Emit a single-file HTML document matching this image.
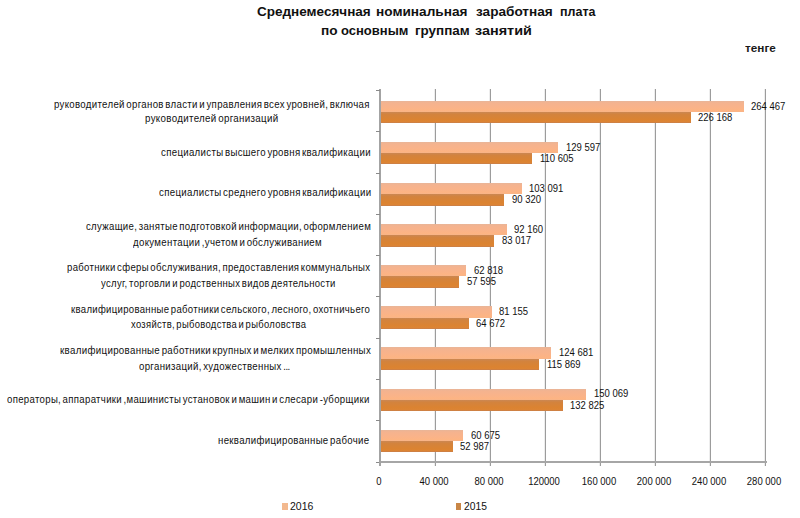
<!DOCTYPE html>
<html><head><meta charset="utf-8"><style>
html,body{margin:0;padding:0;background:#fff;}
body{width:800px;height:518px;position:relative;overflow:hidden;font-family:"Liberation Sans",sans-serif;}
.t{position:absolute;white-space:nowrap;line-height:20px;height:20px;transform-origin:0 0;}
.cl{letter-spacing:0.35px;word-spacing:-1.6px;}
.g{position:absolute;background:#9c9c9c;width:1px;}
.gl{box-shadow:-1px 0 0 #ededed;}
.b1{position:absolute;background:linear-gradient(to bottom,#e8b598 0%,#f4b38f 18%,#f9b38a 55%,#fdb482 92%,#f3b48c 100%);}
.b2{position:absolute;background:linear-gradient(to bottom,#cb8753 0%,#d3833d 22%,#db8331 70%,#dc8434 88%,#c67e4c 100%);}
</style></head><body>

<div class="g gl" style="left:435px;top:89px;height:377px"></div>
<div class="g gl" style="left:490px;top:89px;height:377px"></div>
<div class="g gl" style="left:545px;top:89px;height:377px"></div>
<div class="g gl" style="left:600px;top:89px;height:377px"></div>
<div class="g gl" style="left:655px;top:89px;height:377px"></div>
<div class="g gl" style="left:710px;top:89px;height:377px"></div>
<div class="g gl" style="left:765px;top:89px;height:377px"></div>
<div class="g" style="left:379px;top:89px;height:374px;width:2px;background:#a3a3a3"></div>
<div class="g" style="left:379px;top:461px;width:388px;height:2px;background:#a6a6a6"></div>
<div class="g" style="left:376px;top:90px;width:4px;height:1px;background:#8a8a8a"></div>
<div class="g" style="left:376px;top:131px;width:4px;height:1px;background:#8a8a8a"></div>
<div class="g" style="left:376px;top:173px;width:4px;height:1px;background:#8a8a8a"></div>
<div class="g" style="left:376px;top:214px;width:4px;height:1px;background:#8a8a8a"></div>
<div class="g" style="left:376px;top:255px;width:4px;height:1px;background:#8a8a8a"></div>
<div class="g" style="left:376px;top:296px;width:4px;height:1px;background:#8a8a8a"></div>
<div class="g" style="left:376px;top:338px;width:4px;height:1px;background:#8a8a8a"></div>
<div class="g" style="left:376px;top:379px;width:4px;height:1px;background:#8a8a8a"></div>
<div class="g" style="left:376px;top:420px;width:4px;height:1px;background:#8a8a8a"></div>
<div class="g" style="left:376px;top:462px;width:4px;height:1px;background:#8a8a8a"></div>
<div class="g" style="left:379px;top:461px;height:5px;width:2px;background:#a3a3a3"></div>
<div class="b1" style="left:381.00px;top:100.60px;width:362.64px;height:11.35px"></div>
<div class="b2" style="left:381.00px;top:111.95px;width:309.98px;height:11.35px"></div>
<div class="b1" style="left:381.00px;top:141.73px;width:177.20px;height:11.35px"></div>
<div class="b2" style="left:381.00px;top:153.08px;width:151.08px;height:11.35px"></div>
<div class="b1" style="left:381.00px;top:182.86px;width:140.75px;height:11.35px"></div>
<div class="b2" style="left:381.00px;top:194.21px;width:123.19px;height:11.35px"></div>
<div class="b1" style="left:381.00px;top:223.99px;width:125.72px;height:11.35px"></div>
<div class="b2" style="left:381.00px;top:235.34px;width:113.15px;height:11.35px"></div>
<div class="b1" style="left:381.00px;top:265.12px;width:85.37px;height:11.35px"></div>
<div class="b2" style="left:381.00px;top:276.47px;width:78.19px;height:11.35px"></div>
<div class="b1" style="left:381.00px;top:306.25px;width:110.59px;height:11.35px"></div>
<div class="b2" style="left:381.00px;top:317.60px;width:87.92px;height:11.35px"></div>
<div class="b1" style="left:381.00px;top:347.38px;width:170.44px;height:11.35px"></div>
<div class="b2" style="left:381.00px;top:358.73px;width:158.32px;height:11.35px"></div>
<div class="b1" style="left:381.00px;top:388.51px;width:205.34px;height:11.35px"></div>
<div class="b2" style="left:381.00px;top:399.86px;width:181.63px;height:11.35px"></div>
<div class="b1" style="left:381.00px;top:429.64px;width:82.43px;height:11.35px"></div>
<div class="b2" style="left:381.00px;top:440.99px;width:71.86px;height:11.35px"></div>
<div style="position:absolute;left:282.4px;top:502.8px;width:6px;height:7px;background:#f3b98f"></div>
<div style="position:absolute;left:456px;top:503.1px;width:5px;height:7px;background:#c98646"></div>
<div class="t" id="t1_0" style="left:256.79px;top:1.63px;font-size:13.2px;font-weight:700;color:#111;transform:scaleX(1.0247);">Среднемесячная</div>
<div class="t" id="t1_1" style="left:376.39px;top:1.63px;font-size:13.2px;font-weight:700;color:#111;transform:scaleX(1.0336);">номинальная</div>
<div class="t" id="t1_2" style="left:476.39px;top:1.63px;font-size:13.2px;font-weight:700;color:#111;transform:scaleX(1.0308);">заработная</div>
<div class="t" id="t1_3" style="left:560.31px;top:1.63px;font-size:13.2px;font-weight:700;color:#111;transform:scaleX(0.9467);">плата</div>
<div class="t" id="t2_0" style="left:320.83px;top:20.63px;font-size:13.2px;font-weight:700;color:#111;transform:scaleX(1.0328);">по</div>
<div class="t" id="t2_1" style="left:341.49px;top:20.63px;font-size:13.2px;font-weight:700;color:#111;transform:scaleX(0.9856);">основным</div>
<div class="t" id="t2_2" style="left:415.20px;top:20.63px;font-size:13.2px;font-weight:700;color:#111;transform:scaleX(1.0168);">группам</div>
<div class="t" id="t2_3" style="left:474.88px;top:20.63px;font-size:13.2px;font-weight:700;color:#111;transform:scaleX(1.0928);">занятий</div>
<div class="t" id="unit" style="left:745.00px;top:37.88px;font-size:11.3px;font-weight:700;color:#1a1a1a;transform:scaleX(1.0402);">тенге</div>
<div class="t cl" id="c0_0" style="left:54.28px;top:93.76px;font-size:10.5px;font-weight:400;color:#111;transform:scaleX(0.9177);">руководителей органов власти и управления всех уровней, включая</div>
<div class="t cl" id="c0_1" style="left:144.80px;top:107.96px;font-size:10.5px;font-weight:400;color:#111;transform:scaleX(0.9283);">руководителей организаций</div>
<div class="t cl" id="c1_0" style="left:160.98px;top:142.36px;font-size:10.5px;font-weight:400;color:#111;transform:scaleX(0.9187);">специалисты высшего уровня квалификации</div>
<div class="t cl" id="c2_0" style="left:158.98px;top:181.86px;font-size:10.5px;font-weight:400;color:#111;transform:scaleX(0.9209);">специалисты среднего уровня квалификации</div>
<div class="t cl" id="c3_0" style="left:85.77px;top:216.11px;font-size:10.5px;font-weight:400;color:#111;transform:scaleX(0.9139);">служащие, занятые подготовкой информации, оформлением</div>
<div class="t cl" id="c3_1" style="left:133.31px;top:231.86px;font-size:10.5px;font-weight:400;color:#111;transform:scaleX(0.9191);">документации ,учетом и обслуживанием</div>
<div class="t cl" id="c4_0" style="left:67.48px;top:256.86px;font-size:10.5px;font-weight:400;color:#111;transform:scaleX(0.9103);">работники сферы обслуживания, предоставления коммунальных</div>
<div class="t cl" id="c4_1" style="left:100.90px;top:272.96px;font-size:10.5px;font-weight:400;color:#111;transform:scaleX(0.9066);">услуг, торговли и родственных видов деятельности</div>
<div class="t cl" id="c5_0" style="left:71.39px;top:299.11px;font-size:10.5px;font-weight:400;color:#111;transform:scaleX(0.9088);">квалифицированные работники сельского, лесного, охотничьего</div>
<div class="t cl" id="c5_1" style="left:130.79px;top:313.76px;font-size:10.5px;font-weight:400;color:#111;transform:scaleX(0.8969);">хозяйств, рыбоводства и рыболовства</div>
<div class="t cl" id="c6_0" style="left:60.08px;top:340.26px;font-size:10.5px;font-weight:400;color:#111;transform:scaleX(0.9253);">квалифицированные работники крупных и мелких промышленных</div>
<div class="t cl" id="c6_1" style="left:139.30px;top:355.96px;font-size:10.5px;font-weight:400;color:#111;transform:scaleX(0.9180);">организаций, художественных <span style="letter-spacing:-0.6px">...</span></div>
<div class="t cl" id="c7_0" style="left:7.07px;top:388.56px;font-size:10.5px;font-weight:400;color:#111;transform:scaleX(0.9145);">операторы, аппаратчики ,машинисты установок и машин и слесари -уборщики</div>
<div class="t cl" id="c8_0" style="left:218.49px;top:430.26px;font-size:10.5px;font-weight:400;color:#111;transform:scaleX(0.9173);">неквалифицированные рабочие</div>
<div class="t" id="va0" style="left:751.14px;top:96.51px;font-size:10px;font-weight:400;color:#111;transform:scaleX(0.9500);">264 467</div>
<div class="t" id="vb0" style="left:698.48px;top:107.86px;font-size:10px;font-weight:400;color:#111;transform:scaleX(0.9500);">226 168</div>
<div class="t" id="va1" style="left:565.70px;top:137.64px;font-size:10px;font-weight:400;color:#111;transform:scaleX(0.9500);">129 597</div>
<div class="t" id="vb1" style="left:539.58px;top:148.99px;font-size:10px;font-weight:400;color:#111;transform:scaleX(0.9500);">110 605</div>
<div class="t" id="va2" style="left:529.25px;top:178.77px;font-size:10px;font-weight:400;color:#111;transform:scaleX(0.9500);">103 091</div>
<div class="t" id="vb2" style="left:511.69px;top:190.12px;font-size:10px;font-weight:400;color:#111;transform:scaleX(0.9500);">90 320</div>
<div class="t" id="va3" style="left:514.22px;top:219.90px;font-size:10px;font-weight:400;color:#111;transform:scaleX(0.9500);">92 160</div>
<div class="t" id="vb3" style="left:501.65px;top:231.25px;font-size:10px;font-weight:400;color:#111;transform:scaleX(0.9500);">83 017</div>
<div class="t" id="va4" style="left:473.87px;top:261.03px;font-size:10px;font-weight:400;color:#111;transform:scaleX(0.9500);">62 818</div>
<div class="t" id="vb4" style="left:466.69px;top:272.38px;font-size:10px;font-weight:400;color:#111;transform:scaleX(0.9500);">57 595</div>
<div class="t" id="va5" style="left:499.09px;top:302.16px;font-size:10px;font-weight:400;color:#111;transform:scaleX(0.9500);">81 155</div>
<div class="t" id="vb5" style="left:476.42px;top:313.51px;font-size:10px;font-weight:400;color:#111;transform:scaleX(0.9500);">64 672</div>
<div class="t" id="va6" style="left:558.94px;top:343.29px;font-size:10px;font-weight:400;color:#111;transform:scaleX(0.9500);">124 681</div>
<div class="t" id="vb6" style="left:546.82px;top:354.64px;font-size:10px;font-weight:400;color:#111;transform:scaleX(0.9500);">115 869</div>
<div class="t" id="va7" style="left:593.84px;top:384.42px;font-size:10px;font-weight:400;color:#111;transform:scaleX(0.9500);">150 069</div>
<div class="t" id="vb7" style="left:570.13px;top:395.77px;font-size:10px;font-weight:400;color:#111;transform:scaleX(0.9500);">132 825</div>
<div class="t" id="va8" style="left:470.93px;top:425.55px;font-size:10px;font-weight:400;color:#111;transform:scaleX(0.9500);">60 675</div>
<div class="t" id="vb8" style="left:460.36px;top:436.90px;font-size:10px;font-weight:400;color:#111;transform:scaleX(0.9500);">52 987</div>
<div class="t" id="ax0" style="left:329.20px;width:100px;text-align:center;top:471.53px;font-size:10px;font-weight:400;color:#111;transform-origin:50% 0;transform:scaleX(0.9500);">0</div>
<div class="t" id="ax1" style="left:384.20px;width:100px;text-align:center;top:471.53px;font-size:10px;font-weight:400;color:#111;transform-origin:50% 0;transform:scaleX(0.9500);">40 000</div>
<div class="t" id="ax2" style="left:439.20px;width:100px;text-align:center;top:471.53px;font-size:10px;font-weight:400;color:#111;transform-origin:50% 0;transform:scaleX(0.9500);">80 000</div>
<div class="t" id="ax3" style="left:494.20px;width:100px;text-align:center;top:471.53px;font-size:10px;font-weight:400;color:#111;transform-origin:50% 0;transform:scaleX(0.9500);">120000</div>
<div class="t" id="ax4" style="left:549.20px;width:100px;text-align:center;top:471.53px;font-size:10px;font-weight:400;color:#111;transform-origin:50% 0;transform:scaleX(0.9500);">160 000</div>
<div class="t" id="ax5" style="left:604.20px;width:100px;text-align:center;top:471.53px;font-size:10px;font-weight:400;color:#111;transform-origin:50% 0;transform:scaleX(0.9500);">200 000</div>
<div class="t" id="ax6" style="left:659.20px;width:100px;text-align:center;top:471.53px;font-size:10px;font-weight:400;color:#111;transform-origin:50% 0;transform:scaleX(0.9500);">240 000</div>
<div class="t" id="ax7" style="left:714.20px;width:100px;text-align:center;top:471.53px;font-size:10px;font-weight:400;color:#111;transform-origin:50% 0;transform:scaleX(0.9500);">280 000</div>
<div class="t" id="lg16" style="left:289.95px;top:497.43px;font-size:10px;font-weight:400;color:#111;transform:scaleX(1.0480);">2016</div>
<div class="t" id="lg15" style="left:463.71px;top:497.43px;font-size:10px;font-weight:400;color:#111;transform:scaleX(1.0280);">2015</div>
</body></html>
